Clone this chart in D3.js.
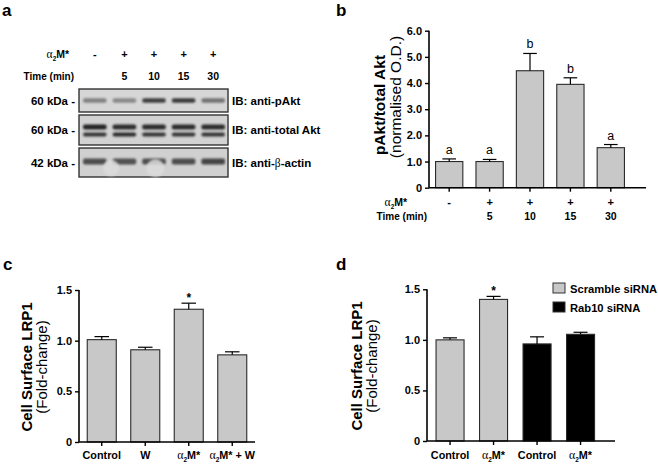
<!DOCTYPE html>
<html><head><meta charset="utf-8">
<script src="https://cdn.jsdelivr.net/npm/d3@7"></script>
<style>body{margin:0;background:#fff}svg{display:block}text{font-family:"Liberation Sans",Arial,sans-serif}</style>
</head><body><svg id="chart" width="658" height="464"></svg>
<script>
// ---------- Panel a: western blot ----------
const lanes = [0,1,2,3,4];
const laneTreat = ["-","+","+","+","+"];
const laneTime = ["","5","10","15","30"];
const blotLabels = ["IB: anti-pAkt","IB: anti-total Akt","IB: anti-β-actin"];
const blotMW = ["60 kDa -","60 kDa -","42 kDa -"];
const pAktBand = [0.42,0.38,0.78,0.80,0.50];
const aktUpper = [0.92,0.88,0.88,0.88,0.88];
const aktLower = [0.82,0.88,0.82,0.82,0.82];
const actinBand = [0.70,0.68,0.70,0.70,0.74];
const actinBubbles = [{lane:0.55, r:8}, {lane:2.05, r:9}];

// ---------- Panel b ----------
const bTreat = ["-","+","+","+","+"];
const bTime = ["","5","10","15","30"];
const bMean = [1.00,1.00,4.47,3.95,1.53];
const bErrTop = [1.10,1.08,5.13,4.20,1.65];
const bLetters = ["a","a","b","b","a"];
const bTicks = [0,1,2,3,4,5,6];

// ---------- Panel c ----------
const cCats = ["Control","W","α2M*","α2M* + W"];
const cMean = [1.01,0.91,1.31,0.86];
const cErrTop = [1.04,0.935,1.37,0.89];
const cSig = ["","","*",""];

// ---------- Panel d ----------
const dCats = ["Control","α2M*","Control","α2M*"];
const dGroup = ["Scramble siRNA","Scramble siRNA","Rab10 siRNA","Rab10 siRNA"];
const dMean = [1.00,1.40,0.96,1.055];
const dErrTop = [1.02,1.43,1.03,1.075];
const dSig = ["","*","",""];
const lrTicks = [0,0.5,1.0,1.5];

const groupColor = {"Scramble siRNA":"#c8c8c8","Rab10 siRNA":"#000000"};
const svg = d3.select("#chart");
const GREY = "#c8c8c8";

function a2m(t, suffix){
  t.append("tspan").attr("font-family","Liberation Serif").attr("font-weight","normal").attr("font-size","1.1em").text("α");
  t.append("tspan").attr("font-size","0.6em").attr("dy",3).text("2");
  t.append("tspan").attr("dy",-3).text("M*"+(suffix||""));
}
function panelLetter(x,y,s){
  svg.append("text").attr("x",x).attr("y",y).attr("font-size",17).attr("font-weight","bold").text(s);
}

// ===== Panel a =====
panelLetter(2,15.5,"a");
const defs = svg.append("defs");
defs.append("filter").attr("id","blur").attr("x","-20%").attr("y","-50%").attr("width","140%").attr("height","200%")
  .append("feGaussianBlur").attr("stdDeviation",1.1);
defs.append("filter").attr("id","blur2").attr("x","-50%").attr("y","-50%").attr("width","200%").attr("height","200%")
  .append("feGaussianBlur").attr("stdDeviation",0.8);
const laneX = d3.scaleBand().domain(lanes).range([80,228]).padding(0);
const rowsY = [[89,112],[115,145],[148,177]];
const bandCol = d3.interpolateRgb("#cfcfcf","#151515");
const ga = svg.append("g");
// header
ga.append("text").attr("x",69).attr("y",58).attr("text-anchor","end").attr("font-size",10.5).attr("font-weight","bold").call(a2m);
ga.selectAll(".lt").data(lanes).join("text").attr("x",d=>laneX(d)+laneX.bandwidth()/2).attr("y",58)
  .attr("text-anchor","middle").attr("font-size",11).attr("font-weight","bold").text(d=>laneTreat[d]);
ga.append("text").attr("x",74).attr("y",80).attr("text-anchor","end").attr("font-size",10).attr("font-weight","bold").text("Time (min)");
ga.selectAll(".tt").data(lanes).join("text").attr("x",d=>laneX(d)+laneX.bandwidth()/2).attr("y",80)
  .attr("text-anchor","middle").attr("font-size",10.5).attr("font-weight","bold").text(d=>laneTime[d]);
// boxes
rowsY.forEach((r,i)=>{
  ga.append("rect").attr("x",79).attr("y",r[0]).attr("width",149).attr("height",r[1]-r[0])
    .attr("fill",["#d6d6d6","#d2d2d2","#d0d0d0"][i]).attr("stroke","#333").attr("stroke-width",1.4);
  ga.append("text").attr("x",75).attr("y",(r[0]+r[1])/2+4).attr("text-anchor","end").attr("font-size",11.5).attr("font-weight","bold").text(blotMW[i]);
  const t = ga.append("text").attr("x",232).attr("y",(r[0]+r[1])/2+4).attr("font-size",11.5).attr("font-weight","bold");
  if(i===2){ t.append("tspan").text("IB: anti-"); t.append("tspan").attr("font-family","Liberation Serif").attr("font-weight","normal").text("β"); t.append("tspan").text("-actin"); }
  else t.text(blotLabels[i]);
});
const bandsG = ga.append("g").attr("filter","url(#blur)");
function drawBands(vals, yc, h){
  bandsG.selectAll(null).data(lanes).join("rect")
    .attr("x",d=>laneX(d)+3).attr("width",laneX.bandwidth()-6)
    .attr("y",yc-h/2).attr("height",h).attr("rx",2)
    .attr("fill",d=>bandCol(vals[d]));
}
drawBands(pAktBand,100.5,4.5);
drawBands(aktUpper,127,5);
drawBands(aktLower,134.5,4);
drawBands(actinBand,161.5,6);
ga.append("g").attr("filter","url(#blur2)").selectAll(".bub").data(actinBubbles).join("circle")
  .attr("cx",d=>laneX(0)+laneX.bandwidth()*(d.lane+0.5)).attr("cy",168).attr("r",d=>d.r)
  .attr("fill","#dcdcdc").attr("opacity",0.85);

// ===== generic bar panel =====
function barPanel(o){
  const g = svg.append("g");
  const x = d3.scaleBand().domain(d3.range(o.mean.length)).range(o.xr).paddingInner(o.pi).paddingOuter(o.pi/2);
  const y = d3.scaleLinear().domain(o.yd).range(o.yr);
  const bw = x.bandwidth();
  g.selectAll(".bar").data(o.mean).join("rect")
    .attr("x",(d,i)=>x(i)).attr("width",bw)
    .attr("y",d=>y(d)).attr("height",d=>y(0)-y(d))
    .attr("fill",(d,i)=>o.color(i)).attr("stroke","#2a2a2a").attr("stroke-width",1.1);
  g.selectAll(".ev").data(o.err).join("line")
    .attr("x1",(d,i)=>x(i)+bw/2).attr("x2",(d,i)=>x(i)+bw/2)
    .attr("y1",(d,i)=>y(o.mean[i])).attr("y2",d=>y(d)).attr("stroke","#000").attr("stroke-width",1.2);
  g.selectAll(".ec").data(o.err).join("line")
    .attr("x1",(d,i)=>x(i)+bw/4).attr("x2",(d,i)=>x(i)+bw*3/4)
    .attr("y1",d=>y(d)).attr("y2",d=>y(d)).attr("stroke","#000").attr("stroke-width",1.2);
  g.selectAll(".ann").data(o.ann).join("text")
    .attr("x",(d,i)=>x(i)+bw/2).attr("y",(d,i)=>y(o.err[i])+o.annDy)
    .attr("text-anchor","middle").attr("font-size",o.annSize).attr("font-weight",o.annWeight).text(d=>d);
  const ya = g.append("g").attr("transform",`translate(${o.axX},0)`)
    .call(d3.axisLeft(y).tickValues(o.ticks).tickSize(4).tickPadding(3).tickFormat(d=>d===0?"0":d3.format(".1f")(d)));
  ya.select(".domain").attr("stroke-width",1.6).attr("d",`M0,${y(0)}V${y(o.yd[1])}`);
  ya.selectAll(".tick line").attr("stroke-width",1.4);
  ya.selectAll(".tick text").attr("font-family","Liberation Sans, Arial, sans-serif").attr("font-size",11).attr("font-weight","bold").attr("fill","#000");
  g.append("line").attr("x1",o.axX).attr("x2",o.axEnd).attr("y1",y(0)).attr("y2",y(0)).attr("stroke","#000").attr("stroke-width",1.6);
  g.selectAll(".xt").data(o.mean).join("line")
    .attr("x1",(d,i)=>x(i)+bw/2).attr("x2",(d,i)=>x(i)+bw/2)
    .attr("y1",y(0)).attr("y2",y(0)+4).attr("stroke","#000").attr("stroke-width",1.4);
  const yc = o.titleY;
  g.append("text").attr("transform",`translate(${o.t1x},${yc}) rotate(-90)`).attr("text-anchor","middle")
    .attr("font-size",o.tSize).attr("font-weight","bold").text(o.t1);
  g.append("text").attr("transform",`translate(${o.t2x},${o.t2y||yc}) rotate(-90)`).attr("text-anchor","middle")
    .attr("font-size",o.tSize).text(o.t2);
  return {g,x,y,bw};
}

// ===== Panel b =====
panelLetter(336,15.5,"b");
const pb = barPanel({mean:bMean, err:bErrTop, xr:[429,631], pi:0.325, yd:[0,6], yr:[187.7,30.7],
  color:()=>GREY, ann:bLetters, annDy:-5, annSize:12.5, annWeight:"normal", ticks:bTicks, axX:429, axEnd:646,
  t1:"pAkt/total Akt", t2:"(normalised O.D.)", t1x:385, t2x:401, titleY:105, t2y:97, tSize:15.5});
pb.g.append("text").attr("x",407).attr("y",206).attr("text-anchor","end").attr("font-size",10.5).attr("font-weight","bold").call(a2m);
pb.g.selectAll(".bt").data(bTreat).join("text").attr("x",(d,i)=>pb.x(i)+pb.bw/2).attr("y",206)
  .attr("text-anchor","middle").attr("font-size",11).attr("font-weight","bold").text(d=>d);
pb.g.append("text").attr("x",427).attr("y",220).attr("text-anchor","end").attr("font-size",10).attr("font-weight","bold").text("Time (min)");
pb.g.selectAll(".bn").data(bTime).join("text").attr("x",(d,i)=>pb.x(i)+pb.bw/2).attr("y",220)
  .attr("text-anchor","middle").attr("font-size",10.5).attr("font-weight","bold").text(d=>d);

// ===== Panel c =====
panelLetter(3,270,"c");
const pc = barPanel({mean:cMean, err:cErrTop, xr:[80,254], pi:0.333, yd:[0,1.5], yr:[442,290],
  color:()=>GREY, ann:cSig, annDy:-1, annSize:12, annWeight:"bold", ticks:lrTicks, axX:79, axEnd:255,
  t1:"Cell Surface LRP1", t2:"(Fold-change)", t1x:32, t2x:47, titleY:367, tSize:15});
function xLabel(p, cats){
  p.g.selectAll(".xl").data(cats).join("text").attr("x",(d,i)=>p.x(i)+p.bw/2).attr("y",459)
    .attr("text-anchor","middle").attr("font-size",10.8).attr("font-weight","bold")
    .each(function(d){
      const t=d3.select(this);
      if(d.startsWith("α2M*")) a2m(t, d.slice(4)); else t.text(d);
    });
}
xLabel(pc, cCats);

// ===== Panel d =====
panelLetter(336,270,"d");
const pd = barPanel({mean:dMean, err:dErrTop, xr:[428.3,602.3], pi:0.356, yd:[0,1.5], yr:[441,289.3],
  color:i=>groupColor[dGroup[i]], ann:dSig, annDy:-1, annSize:12, annWeight:"bold", ticks:lrTicks, axX:427, axEnd:615,
  t1:"Cell Surface LRP1", t2:"(Fold-change)", t1x:362, t2x:377, titleY:366, tSize:15});
xLabel(pd, dCats);
const legendKeys = Array.from(new Set(dGroup));
const lg = svg.append("g").selectAll("g").data(legendKeys).join("g")
  .attr("transform",(d,i)=>`translate(553,${283+i*19})`);
lg.append("rect").attr("width",12).attr("height",10).attr("fill",d=>groupColor[d]).attr("stroke","#333").attr("stroke-width",1);
lg.append("text").attr("x",17).attr("y",9.5).attr("font-size",11.2).attr("font-weight","bold").text(d=>d);
</script></body></html>
